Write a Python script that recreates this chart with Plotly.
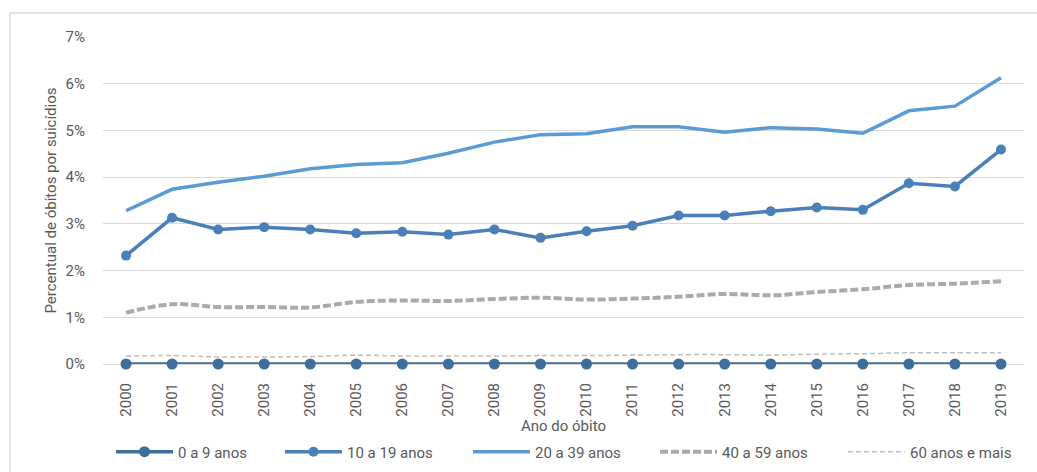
import plotly.graph_objects as go

years = [str(y) for y in range(2000, 2020)]
s_0_9 = [0.0] * 20
s_10_19 = [2.32, 3.13, 2.88, 2.93, 2.88, 2.80, 2.83, 2.77, 2.88, 2.70,
           2.84, 2.96, 3.18, 3.18, 3.27, 3.35, 3.30, 3.87, 3.80, 4.59]
s_20_39 = [3.28, 3.74, 3.89, 4.02, 4.18, 4.27, 4.31, 4.51, 4.75, 4.91,
           4.93, 5.08, 5.08, 4.96, 5.06, 5.03, 4.94, 5.42, 5.52, 6.13]
s_40_59 = [1.10, 1.28, 1.22, 1.22, 1.21, 1.33, 1.36, 1.35, 1.39, 1.42,
           1.38, 1.40, 1.44, 1.50, 1.47, 1.54, 1.60, 1.69, 1.72, 1.77]
s_60 = [0.17, 0.18, 0.15, 0.15, 0.16, 0.19, 0.17, 0.17, 0.17, 0.18,
        0.18, 0.19, 0.20, 0.20, 0.19, 0.21, 0.22, 0.24, 0.24, 0.24]
y_ticks = [0, 1, 2, 3, 4, 5, 6, 7]
y_labels = [f"{v}%" for v in y_ticks]

FONT = "Roboto"
GREY = "#595959"
FS = 15

fig = go.Figure()
fig.add_trace(go.Scatter(x=years, y=s_0_9, name="0 a 9 anos", mode="lines+markers",
                         line=dict(color="#3F6E9A", width=3.5),
                         marker=dict(size=11, color="#3F6E9A"), cliponaxis=False,
                         legendwidth=97))
fig.add_trace(go.Scatter(x=years, y=s_10_19, name="10 a 19 anos", mode="lines+markers",
                         line=dict(color="#4A7FB9", width=3.5),
                         marker=dict(size=10, color="#4A7FB9"), legendwidth=116))
fig.add_trace(go.Scatter(x=years, y=s_20_39, name="20 a 39 anos", mode="lines",
                         line=dict(color="#5B9BD5", width=3.5), legendwidth=115))
fig.add_trace(go.Scatter(x=years, y=s_40_59, name="40 a 59 anos", mode="lines",
                         line=dict(color="#ABA9A9", width=4, dash="8px,3px", shape="spline"),
                         legendwidth=116))
fig.add_trace(go.Scatter(x=years, y=s_60, name="60 anos e mais", mode="lines",
                         line=dict(color="#BDBDBD", width=1.5, dash="5px,3px", shape="spline"),
                         legendwidth=108))

fig.update_layout(
    width=1037, height=472,
    margin=dict(l=103, r=13, t=37, b=108, autoexpand=False),
    paper_bgcolor="white", plot_bgcolor="white",
    font=dict(family=FONT, size=FS, color=GREY),
    showlegend=True,
    legend=dict(orientation="h", x=0.0087, xanchor="left", y=-0.269, yanchor="middle",
                font=dict(family=FONT, size=FS, color=GREY), itemwidth=57,
                traceorder="normal", bgcolor="rgba(0,0,0,0)"),
    shapes=[dict(type="rect", xref="paper", yref="paper", x0=-0.101, x1=1.03,
                 y0=-0.4, y1=1.0734, line=dict(color="#D9D9D9", width=1.5),
                 fillcolor="rgba(0,0,0,0)", layer="below")],
)
fig.update_xaxes(type="category", range=[-0.5, 19.5], tickangle=-90, showgrid=False,
                 showline=False, automargin=False,
                 ticks="outside", ticklen=12, tickcolor="rgba(0,0,0,0)",
                 tickfont=dict(family=FONT, size=FS, color=GREY),
                 title=dict(text="Ano do óbito", font=dict(family=FONT, size=FS, color=GREY),
                            standoff=3))
fig.update_yaxes(range=[0, 7], tickvals=y_ticks, ticktext=y_labels, showgrid=True,
                 gridcolor="#D9D9D9", gridwidth=1, zeroline=True, zerolinecolor="#D9D9D9",
                 zerolinewidth=1, automargin=False,
                 ticks="outside", ticklen=14, tickcolor="rgba(0,0,0,0)",
                 tickfont=dict(family=FONT, size=FS, color=GREY),
                 title=dict(text="Percentual de óbitos por suicídios",
                            font=dict(family=FONT, size=FS, color=GREY), standoff=5))

fig.write_html("out.html")
